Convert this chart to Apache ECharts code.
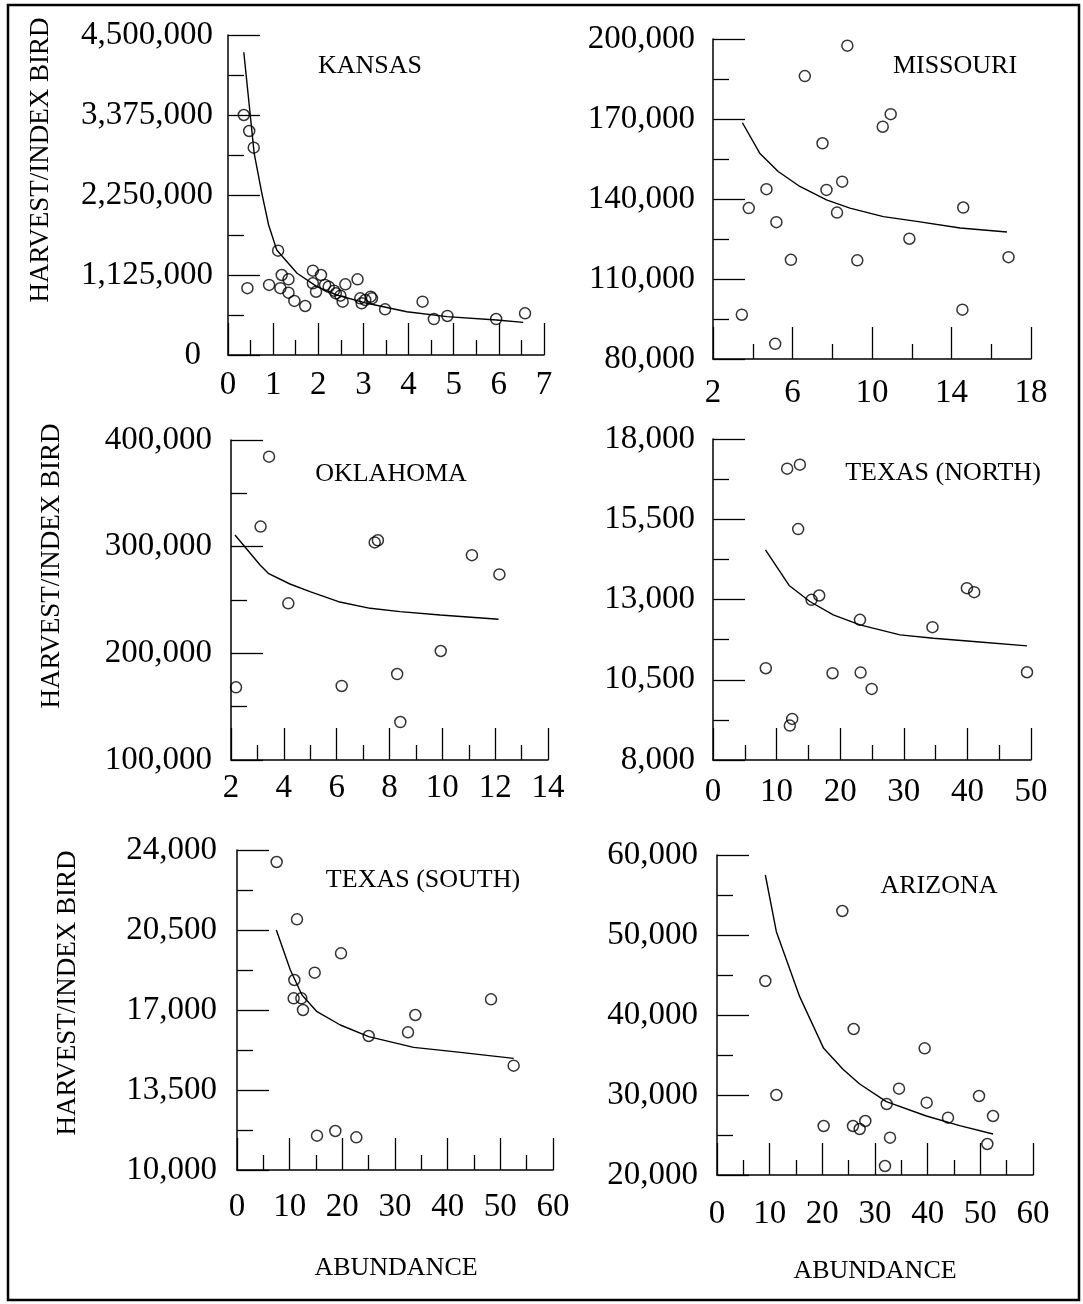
<!DOCTYPE html>
<html>
<head>
<meta charset="utf-8">
<script src="https://cdn.jsdelivr.net/npm/echarts@6/dist/echarts.min.js"></script>
<style>
html,body{margin:0;padding:0;background:#fff;}
#c{width:1083px;height:1304px;}
</style>
</head>
<body>
<div id="c"></div>
<script>
// ---------- DATA ----------
const panelNames = ['KANSAS', 'MISSOURI', 'OKLAHOMA', 'TEXAS (NORTH)', 'TEXAS (SOUTH)', 'ARIZONA'];
const yTitle = 'HARVEST/INDEX BIRD';
const xTitle = 'ABUNDANCE';

const kansasPts = [[0.35,3375000],[0.47,3150000],[0.57,2916000],[0.43,940000],[1.11,1467000],[0.91,985000],
  [1.19,1125000],[1.16,940000],[1.34,1064000],[1.34,877000],[1.47,760000],[1.71,689000],[1.88,1186000],
  [1.88,1008000],[1.95,890000],[2.06,1125000],[2.15,985000],[2.23,960000],[2.35,905000],[2.39,867000],
  [2.49,834000],[2.54,750000],[2.60,994000],[2.87,1064000],[2.93,797000],[2.96,727000],[3.04,774000],
  [3.16,820000],[3.19,797000],[3.48,642000],[4.31,750000],[4.56,506000],[4.86,549000],[5.94,506000],[6.58,586000]];
const kansasFit = [[0.35,4257000],[0.58,2836000],[0.75,2274000],[0.90,1828000],[1.08,1477000],[1.53,1149000],
  [1.97,961000],[2.41,844000],[3.08,727000],[3.96,609000],[4.85,539000],[5.95,492000],[6.54,459000]];

const missouriPts = [[8.76,197500],[6.62,186100],[10.94,171800],[10.54,167100],[7.51,160900],[8.50,146500],
  [7.71,143400],[4.69,143700],[3.80,136600],[8.24,134900],[5.19,131300],[14.59,136800],[11.88,125100],
  [5.92,117200],[9.26,117000],[16.87,118200],[3.45,96600],[14.55,98500],[5.13,85700]];
const missouriFit = [[3.48,168600],[4.35,157200],[5.28,150300],[6.37,144700],[7.71,139700],[8.89,136600],
  [10.57,133400],[12.25,131600],[14.44,129100],[16.79,127600]];

const oklahomaPts = [[3.44,384400],[3.12,318800],[7.44,304000],[7.56,306000],[11.12,292000],[12.16,274000],
  [4.17,246900],[9.94,202200],[8.29,180600],[2.19,168100],[6.19,169400],[8.41,135600]];
const oklahomaFit = [[2.15,310900],[3.10,282800],[3.41,275000],[4.23,265000],[4.99,257800],[6.07,248400],
  [7.27,242200],[8.40,239100],[9.92,235900],[12.13,231900]];

const texasNorthPts = [[11.66,17075],[13.66,17200],[13.39,15193],[15.49,12990],[16.70,13125],[23.11,12366],
  [34.51,12137],[39.92,13353],[41.07,13229],[8.30,10859],[18.80,10703],[23.21,10723],[24.95,10214],
  [49.37,10734],[12.08,9071],[12.45,9279]];
const texasNorthFit = [[8.25,14549],[11.97,13437],[15.23,12938],[18.91,12522],[23.11,12210],[29.41,11898],
  [34.66,11794],[40.97,11690],[49.37,11555]];

const texasSouthPts = [[7.53,23475],[11.39,20967],[19.75,19479],[14.75,18633],[10.89,18313],[10.76,17511],
  [12.22,17511],[12.53,17000],[48.23,17467],[33.86,16781],[32.47,16023],[25.0,15863],[52.53,14565],
  [15.19,11502],[18.67,11706],[22.66,11429]];
const texasSouthFit = [[7.47,20500],[10.13,18750],[12.34,17656],[15.19,16927],[19.62,16344],[25.0,15833],
  [33.54,15367],[41.14,15177],[52.53,14885]];

const arizonaPts = [[23.80,53000],[9.18,44250],[25.95,38250],[39.43,35833],[34.56,30792],[11.27,30000],
  [49.75,29875],[32.22,28875],[39.81,29042],[43.86,27167],[52.41,27375],[28.16,26750],[20.25,26125],
  [25.82,26125],[27.09,25750],[32.85,24667],[51.33,23875],[31.90,21125]];
const arizonaFit = [[9.18,57500],[11.27,50417],[15.70,42292],[20.25,35833],[23.92,33208],[27.09,31375],
  [32.15,29167],[39.75,27375],[46.08,26167],[52.41,25125]];

// axis ranges: [min, max, interval]
const xRanges = [[0,7,1],[2,18,4],[2,14,2],[0,50,10],[0,60,10],[0,60,10]];
const yRanges = [[0,4500000,1125000],[80000,200000,30000],[100000,400000,100000],[8000,18000,2500],[10000,24000,3500],[20000,60000,10000]];

const pointSets = [kansasPts, missouriPts, oklahomaPts, texasNorthPts, texasSouthPts, arizonaPts];
const fitSets = [kansasFit, missouriFit, oklahomaFit, texasNorthFit, texasSouthFit, arizonaFit];

// ---------- LAYOUT ----------
const FONT = '"Liberation Serif", "Times New Roman", serif';
const grids = [
  {left:228, top:35, width:316, height:320},
  {left:713, top:39, width:318, height:320},
  {left:231, top:440, width:317, height:320},
  {left:713, top:439, width:318, height:321},
  {left:237, top:850, width:316, height:320},
  {left:717, top:855, width:316, height:320}
];
const xLabelMargin = [14, 18, 12, 16, 21, 23];
const yLabelMargin = [15, 18, 19, 18, 20, 19];

const fmt = v => Math.round(v).toLocaleString('en-US');

const xAxes = [], yAxes = [], series = [];
for (let i = 0; i < 6; i++) {
  const lineStyle = {color:'#000', width:1.5};
  xAxes.push({
    type:'value', gridIndex:i, min:xRanges[i][0], max:xRanges[i][1], interval:xRanges[i][2],
    axisLine:{show:true, onZero:false, lineStyle},
    axisTick:{show:true, inside:true, length:32, lineStyle:{color:'#000', width:1.3}},
    minorTick:{show:true, splitNumber:2, length:15, lineStyle:{color:'#000', width:1.3}},
    splitLine:{show:false}, minorSplitLine:{show:false},
    axisLabel:{color:'#000', fontFamily:FONT, fontSize:33, margin:xLabelMargin[i], formatter:fmt, showMinLabel:true, showMaxLabel:true}
  });
  const yLabel = {color:'#000', fontFamily:FONT, fontSize:33, margin:yLabelMargin[i], showMinLabel:true, showMaxLabel:true,
    formatter: fmt};
  if (i === 0) {
    // the "0" on the Kansas axis sits a little left of the other labels
    yLabel.formatter = v => v === 0 ? '{z|0}' : fmt(v);
    yLabel.rich = {z:{fontFamily:FONT, fontSize:33, color:'#000', padding:[0,12,0,0]}};
  }
  yAxes.push({
    type:'value', gridIndex:i, min:yRanges[i][0], max:yRanges[i][1], interval:yRanges[i][2],
    axisLine:{show:true, onZero:false, lineStyle},
    axisTick:{show:true, inside:true, length:32, lineStyle:{color:'#000', width:1.3}},
    minorTick:{show:true, splitNumber:2, length:16, lineStyle:{color:'#000', width:1.3}},
    splitLine:{show:false}, minorSplitLine:{show:false},
    axisLabel:yLabel
  });
  series.push({
    type:'line', xAxisIndex:i, yAxisIndex:i, data:fitSets[i], showSymbol:false, symbol:'none',
    lineStyle:{color:'#000', width:1.4}, smooth:false, silent:true, z:2, animation:false
  });
  series.push({
    type:'scatter', xAxisIndex:i, yAxisIndex:i, data:pointSets[i], symbol:'circle', symbolSize:11,
    itemStyle:{color:'rgba(0,0,0,0)', borderColor:'#000', borderWidth:1.5}, z:3, animation:false
  });
}

const labelPos = [[370,66],[955,66],[391,474],[943,473],[423,880],[939,886]];
const graphics = [
  {type:'rect', shape:{x:8, y:5, width:1071, height:1295}, style:{fill:'none', stroke:'#000', lineWidth:2.5}, silent:true}
];
panelNames.forEach((n, i) => {
  graphics.push({type:'text', x:labelPos[i][0], y:labelPos[i][1],
    style:{text:n, font:'26px ' + FONT, fill:'#000', textAlign:'center', textVerticalAlign:'middle'}});
});
[[41,160],[52,566],[68,993]].forEach(p => {
  graphics.push({type:'text', x:p[0], y:p[1], rotation:Math.PI/2,
    style:{text:yTitle, font:'27px ' + FONT, fill:'#000', textAlign:'center', textVerticalAlign:'middle'}});
});
[[396,1268],[875,1271]].forEach(p => {
  graphics.push({type:'text', x:p[0], y:p[1],
    style:{text:xTitle, font:'26px ' + FONT, fill:'#000', textAlign:'center', textVerticalAlign:'middle'}});
});

const chart = echarts.init(document.getElementById('c'), null, {renderer:'canvas'});
chart.setOption({
  backgroundColor:'#fff',
  animation:false,
  grid:grids,
  xAxis:xAxes,
  yAxis:yAxes,
  series:series,
  graphic:graphics
});
</script>
</body>
</html>
